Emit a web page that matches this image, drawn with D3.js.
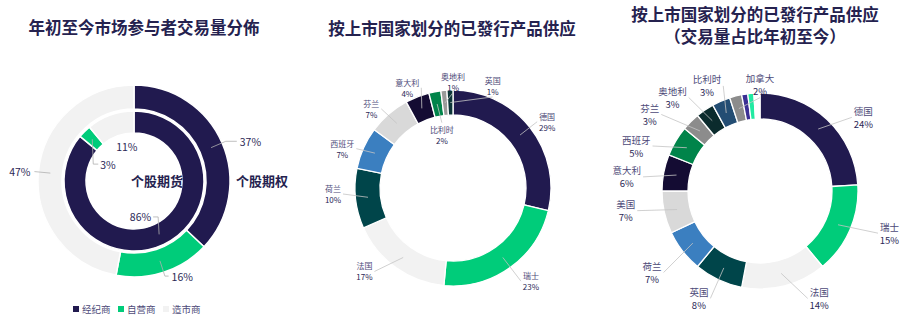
<!DOCTYPE html>
<html>
<head>
<meta charset="utf-8">
<script src="https://cdn.jsdelivr.net/npm/d3@7"></script>
<style>
  body { margin: 0; background: #fff; }
  text { font-family: "Noto Sans CJK SC", "Noto Sans", sans-serif; }
</style>
</head>
<body>
<div id="chart"></div>
<script>
const width = 913, height = 327;

// ---- data ----
const participants = ["经纪商", "自营商", "造市商"];
const participantColors = ["#211a4f", "#00cc7a", "#f2f2f2"];
const optionShare = [37, 16, 47];   // 个股期权
const futureShare = [86, 3, 11];    // 个股期货

const issuedCountries = ["德国", "瑞士", "法国", "荷兰", "西班牙", "芬兰", "意大利", "比利时", "奥地利", "英国"];
const issuedShare = [29, 23, 17, 10, 7, 7, 4, 2, 1, 1];
const issuedColors = ["#211a4f", "#00cc7a", "#f2f2f2", "#00454a", "#3b7fc0", "#d9d9d9", "#140c33", "#00844a", "#9a9a9a", "#0d3538"];

const volumeCountries = ["德国", "瑞士", "法国", "英国", "荷兰", "美国", "意大利", "西班牙", "芬兰", "奥地利", "比利时", "加拿大", "其他A", "其他B", "其他C"];
const volumeShare = [24, 15, 14, 8, 7, 7, 6, 5, 3, 3, 3, 2, 1, 1, 1];
const volumeColors = ["#211a4f", "#00cc7a", "#f2f2f2", "#00454a", "#3b7fc0", "#d9d9d9", "#140c33", "#00844a", "#8c8c8c", "#0b2b2d", "#234d73", "#8c8c8c", "#3a2f94", "#22eaa2", "#ffffff"];
const volumeUnlabelled = ["其他A", "其他B", "其他C"];

const svg = d3.select("#chart").append("svg")
    .attr("width", width)
    .attr("height", height);

const titleColor = "#25224f";
const labelColor = "#4d4a78";
const pctColor = "#2a2755";
const lineColor = "#c4c4c4";

function title(x, y, txt) {
  svg.append("text")
    .attr("x", x).attr("y", y)
    .attr("text-anchor", "middle")
    .attr("dominant-baseline", "central")
    .style("font-size", "16.5px")
    .style("font-weight", "bold")
    .style("fill", titleColor)
    .text(txt);
}

const rad = deg => deg * Math.PI / 180;
const polar = (r, a) => [r * Math.sin(a), -r * Math.cos(a)];

// ---- left: nested donut ----
title(144, 27, "年初至今市场参与者交易量分佈");

const left = svg.append("g").attr("transform", "translate(134,181)");
const pie = d3.pie().sort(null).value(d => d.value);

function ring(g, values, inner, outer) {
  const arcs = pie(values.map((v, i) => ({ name: participants[i], value: v, color: participantColors[i] })));
  const arc = d3.arc().innerRadius(inner).outerRadius(outer);
  g.append("g").selectAll("path")
    .data(arcs)
    .join("path")
    .attr("d", arc)
    .attr("fill", d => d.data.color)
    .attr("stroke", "#fff")
    .attr("stroke-width", 1.5);
  return arcs;
}

const outerArcs = ring(left, optionShare, 72, 96);
const innerArcs = ring(left, futureShare, 48, 70);

// outer ring labels: line out, elbow, label
outerArcs.forEach(d => {
  const a = (d.startAngle + d.endAngle) / 2;
  const s = Math.sin(a);
  const p0 = polar(84, a);
  const p1 = polar(100, a);
  const hLen = s > 0 ? 12 * s : 0;
  const p2 = [p1[0] + hLen, p1[1]];
  left.append("polyline")
    .attr("points", [p0, p1, p2].map(p => p.join(",")).join(" "))
    .attr("fill", "none")
    .attr("stroke", "#b0b0b0")
    .attr("stroke-width", 0.8);
  left.append("text")
    .attr("x", p2[0] + (s > 0 ? 3 : -4))
    .attr("y", p2[1])
    .attr("text-anchor", s > 0 ? "start" : "end")
    .attr("dominant-baseline", "central")
    .style("font-size", "10.5px")
    .style("fill", pctColor)
    .text(d.data.value + "%");
});

// inner ring labels sit inside the hole
const innerLabelAngle = [15, -12, 8];   // shift from slice middle, degrees
const innerLabelR = [36.5, 31, 35];
const innerLeader = [true, true, false];
innerArcs.forEach((d, i) => {
  const m = (d.startAngle + d.endAngle) / 2;
  const a = m + rad(innerLabelAngle[i]);
  const pt = polar(innerLabelR[i], a);
  const t = left.append("text")
    .attr("x", pt[0]).attr("y", pt[1])
    .attr("text-anchor", "middle")
    .attr("dominant-baseline", "central")
    .style("font-size", "10.5px")
    .style("fill", pctColor)
    .text(d.data.value + "%");
  if (!innerLeader[i]) return;
  const half = t.node().getComputedTextLength() / 2;
  const p0 = polar(59, m);
  const edge = p0[0] > pt[0] ? pt[0] + half + 2 : pt[0] - half - 2;
  const dir = p0[0] > pt[0] ? 1 : -1;
  const p1 = [edge + dir * 5, pt[1]];
  const p2 = [edge, pt[1]];
  left.append("polyline")
    .attr("points", [p0, p1, p2].map(p => p.join(",")).join(" "))
    .attr("fill", "none")
    .attr("stroke", "#b0b0b0")
    .attr("stroke-width", 0.8);
});

left.append("text")
  .attr("x", 23).attr("y", -1)
  .attr("text-anchor", "middle")
  .attr("dominant-baseline", "central")
  .style("font-size", "13px")
  .style("font-weight", "bold")
  .style("fill", titleColor)
  .text("个股期货");
left.append("text")
  .attr("x", 128).attr("y", -1)
  .attr("text-anchor", "middle")
  .attr("dominant-baseline", "central")
  .style("font-size", "13px")
  .style("font-weight", "bold")
  .style("fill", titleColor)
  .text("个股期权");

// legend
const legend = svg.append("g").attr("transform", "translate(73,309)");
let lx = 0;
participants.forEach((p, i) => {
  legend.append("rect")
    .attr("x", lx).attr("y", -3)
    .attr("width", 6).attr("height", 6)
    .attr("fill", participantColors[i]);
  legend.append("text")
    .attr("x", lx + 9).attr("y", 0)
    .attr("dominant-baseline", "central")
    .style("font-size", "9.5px")
    .style("fill", labelColor)
    .text(p);
  lx += 45;
});

// ---- labelled single donut ----
function countryDonut(cx, cy, names, values, colors, opt) {
  const g = svg.append("g").attr("transform", `translate(${cx},${cy})`);
  const arcs = pie(names.map((n, i) => ({ name: n, value: values[i], color: colors[i] })));
  const arc = d3.arc().innerRadius(opt.inner).outerRadius(opt.outer);
  g.selectAll("path")
    .data(arcs)
    .join("path")
    .attr("d", arc)
    .attr("fill", d => d.data.color)
    .attr("stroke", "#fff")
    .attr("stroke-width", 1.3);

  const mid = (opt.inner + opt.outer) / 2;
  const fs = opt.fontSize, lh = opt.lineHeight;
  arcs.forEach(d => {
    if (opt.skip && opt.skip.includes(d.data.name)) return;
    const m = (d.startAngle + d.endAngle) / 2;
    const nudge = opt.nudge[d.data.name] || {};
    const a = m + rad(nudge.da || 0);
    const r = nudge.r || (opt.labelR + opt.labelSpread * Math.abs(Math.sin(a)));
    const p = polar(r, a);
    const s = Math.sin(a), c = Math.cos(a);
    const halfW = d.data.name.length * fs / 2;
    let end;
    if (r < opt.inner) end = [p[0], p[1] - fs * 0.8];
    else if (s > 0.35) end = [p[0] - halfW - 2, p[1] + lh / 2];
    else if (s < -0.35) end = [p[0] + halfW + 2, p[1] + lh / 2];
    else if (c > 0) end = [p[0], p[1] + lh + fs * 0.7];
    else end = [p[0], p[1] - fs * 0.8];
    const start = polar(mid, m);
    g.append("line")
      .attr("x1", start[0]).attr("y1", start[1])
      .attr("x2", end[0]).attr("y2", end[1])
      .attr("stroke", lineColor)
      .attr("stroke-width", 0.8);
    g.append("text")
      .attr("x", p[0]).attr("y", p[1])
      .attr("text-anchor", "middle")
      .attr("dominant-baseline", "central")
      .style("font-size", fs + "px")
      .style("fill", labelColor)
      .text(d.data.name);
    g.append("text")
      .attr("x", p[0]).attr("y", p[1] + lh)
      .attr("text-anchor", "middle")
      .attr("dominant-baseline", "central")
      .style("font-size", fs + "px")
      .style("fill", pctColor)
      .text(d.data.value + "%");
  });
}

// ---- middle ----
title(452, 28, "按上市国家划分的已發行产品供应");
countryDonut(453, 188, issuedCountries, issuedShare, issuedColors, {
  inner: 73, outer: 98, labelR: 112, labelSpread: 8,
  fontSize: 8, lineHeight: 11,
  nudge: {
    "德国": { da: 1 }, "瑞士": { da: -6 }, "法国": { da: 13 }, "荷兰": { da: 6 },
    "西班牙": { da: -2 }, "芬兰": { da: -3 }, "意大利": { da: -2 },
    "比利时": { da: 0, r: 60 }, "奥地利": { da: 5.4 }, "英国": { da: 22 }
  }
});

// ---- right ----
title(755, 14, "按上市国家划分的已發行产品供应");
title(755, 36, "（交易量占比年初至今）");
countryDonut(760, 191, volumeCountries, volumeShare, volumeColors, {
  inner: 72, outer: 98, labelR: 115, labelSpread: 20,
  fontSize: 9.5, lineHeight: 13,
  skip: volumeUnlabelled,
  nudge: {
    "德国": { da: 9 }, "瑞士": { da: -8 }, "法国": { da: -16, r: 117 }, "英国": { da: 6, r: 118 },
    "荷兰": { da: 3 }, "美国": { da: 7 }, "意大利": { da: -2 }, "西班牙": { da: -8, r: 134 },
    "芬兰": { da: -8, r: 138 }, "奥地利": { da: -7, r: 133 }, "比利时": { da: -2 }, "加拿大": { da: 14.4, r: 113 }
  }
});
</script>
</body>
</html>
